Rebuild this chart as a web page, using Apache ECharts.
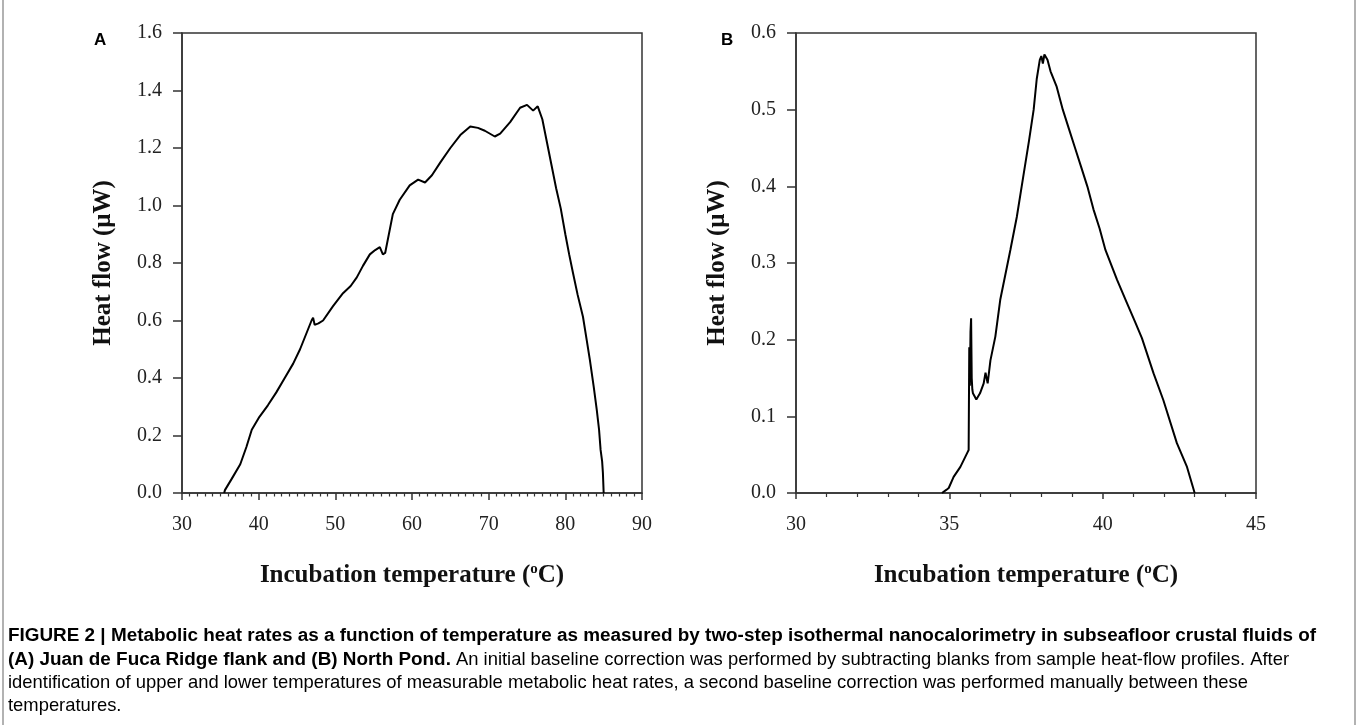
<!DOCTYPE html>
<html>
<head>
<meta charset="utf-8">
<script src="https://cdn.jsdelivr.net/npm/echarts@6/dist/echarts.min.js"></script>
<style>
html, body { margin: 0; padding: 0; background: #fff; }
#main { width: 1357px; height: 725px; }
</style>
</head>
<body>
<div id="main"></div>
<script>
// Panel A: Juan de Fuca Ridge flank
var tempA = [35.5, 35.6, 36.5, 37.6, 38.4, 39.1, 40.1, 41.2, 42.3, 43.4, 44.5, 45.4, 46.3, 46.9, 47.1, 47.3, 47.8, 48.4,
	49.7, 51.0, 52.0, 52.8, 53.6, 54.5, 55.2, 55.8, 56.2, 56.5, 57.5, 58.4, 59.7, 60.8, 61.7, 62.6, 63.7, 65.0,
	66.3, 67.6, 68.6, 69.5, 70.8, 71.5, 72.8, 74.1, 75.0, 75.8, 76.4, 77.0, 77.6, 78.2, 78.8, 79.4, 80.0, 80.5,
	81.0, 81.6, 82.3, 82.8, 83.2, 83.7, 84.1, 84.4, 84.6, 84.8, 84.9, 85.0];
var heatA = [0.0, 0.01, 0.05, 0.10, 0.16, 0.22, 0.265, 0.305, 0.35, 0.40, 0.45, 0.50, 0.56, 0.60, 0.61, 0.585, 0.59, 0.60,
	0.65, 0.695, 0.72, 0.75, 0.79, 0.83, 0.845, 0.855, 0.83, 0.835, 0.97, 1.02, 1.07, 1.09, 1.08, 1.105, 1.15, 1.20,
	1.245, 1.275, 1.27, 1.26, 1.24, 1.25, 1.29, 1.34, 1.35, 1.33, 1.345, 1.30, 1.22, 1.14, 1.06, 0.99, 0.90, 0.83,
	0.765, 0.69, 0.613, 0.53, 0.463, 0.37, 0.289, 0.22, 0.15, 0.11, 0.07, 0.0];

// Panel B: North Pond
var tempB = [34.76, 34.9, 34.98, 35.14, 35.36, 35.58, 35.63, 35.65, 35.67, 35.69, 35.71, 35.73, 35.75, 35.77, 35.88,
	36.0, 36.12, 36.18, 36.25, 36.34, 36.5, 36.66, 36.99, 37.2, 37.4, 37.6, 37.75, 37.85, 37.95, 38.0, 38.05, 38.1,
	38.2, 38.3, 38.5, 38.7, 38.9, 39.1, 39.3, 39.5, 39.7, 39.9, 40.09, 40.47, 40.8, 41.06, 41.28, 41.66, 41.98,
	42.42, 42.75, 43.0];
var heatB = [0.0, 0.004, 0.0065, 0.021, 0.034, 0.052, 0.056, 0.19, 0.14, 0.21, 0.228, 0.15, 0.135, 0.13, 0.122,
	0.13, 0.143, 0.157, 0.143, 0.173, 0.204, 0.252, 0.317, 0.36, 0.41, 0.46, 0.50, 0.54, 0.565, 0.57, 0.56, 0.572,
	0.565, 0.55, 0.53, 0.50, 0.475, 0.45, 0.425, 0.40, 0.37, 0.345, 0.317, 0.278, 0.247, 0.223, 0.202, 0.156, 0.121,
	0.065, 0.034, 0.0];

var ticksA = [30, 40, 50, 60, 70, 80, 90];
var ticksB = [30, 35, 40, 45];

var serif = '"Liberation Serif", "Times New Roman", serif';
var sans = '"Liberation Sans", Arial, sans-serif';
var axisColor = '#333';

function pairs(xs, ys) {
	return xs.map(function (x, i) { return [x, ys[i]]; });
}

var nameRich = {
	n: { fontFamily: serif, fontWeight: 'bold', fontSize: 25, color: '#111', lineHeight: 28 },
	s: { fontFamily: serif, fontWeight: 'bold', fontSize: 15, color: '#111', verticalAlign: 'top', lineHeight: 28 }
};

function xAxis(idx, ticks, minorSplit, majorLen, minorLen) {
	return {
		type: 'value',
		gridIndex: idx,
		min: ticks[0],
		max: ticks[ticks.length - 1],
		interval: ticks[1] - ticks[0],
		name: '{n|Incubation temperature (}{s|o}{n|C)}',
		nameLocation: 'middle',
		nameGap: 69,
		nameTextStyle: { rich: nameRich },
		axisLine: { lineStyle: { color: axisColor, width: 1.5 } },
		axisTick: { length: majorLen, lineStyle: { color: axisColor, width: 1.5 } },
		minorTick: { show: true, splitNumber: minorSplit, length: minorLen, lineStyle: { color: axisColor, width: 1.2 } },
		splitLine: { show: false },
		axisLabel: { margin: 22, fontFamily: serif, fontSize: 20, color: '#222' }
	};
}

function yAxis(idx, max, interval) {
	return {
		type: 'value',
		gridIndex: idx,
		min: 0,
		max: max,
		interval: interval,
		name: 'Heat flow (μW)',
		nameLocation: 'middle',
		nameGap: 66,
		nameTextStyle: { fontFamily: serif, fontWeight: 'bold', fontSize: 25, color: '#111' },
		axisLine: { lineStyle: { color: axisColor, width: 1.5 } },
		axisTick: { length: 9, lineStyle: { color: axisColor, width: 1.5 } },
		splitLine: { show: false },
		axisLabel: {
			margin: 20, fontFamily: serif, fontSize: 20, color: '#222',
			formatter: function (v) { return v.toFixed(1); }
		}
	};
}

var captionBold = { fontFamily: sans, fontWeight: 'bold', fontSize: 18.9, color: '#222' };
var captionReg = { fontFamily: sans, fontSize: 18.4, color: '#3a3a3a' };

function captionLine(y, text) {
	return {
		type: 'text', left: 8, top: y,
		style: { text: text, rich: { b: captionBold, r: captionReg } }
	};
}

var option = {
	backgroundColor: '#fff',
	animation: false,
	grid: [
		{ left: 182, top: 33, width: 460, height: 460, show: true, borderColor: axisColor, borderWidth: 1.5 },
		{ left: 796, top: 33, width: 460, height: 460, show: true, borderColor: axisColor, borderWidth: 1.5 }
	],
	xAxis: [xAxis(0, ticksA, 10, 7, 3.5), xAxis(1, ticksB, 5, 6, 4)],
	yAxis: [yAxis(0, 1.6, 0.2), yAxis(1, 0.6, 0.1)],
	series: [
		{
			type: 'line', xAxisIndex: 0, yAxisIndex: 0, data: pairs(tempA, heatA),
			showSymbol: false, lineStyle: { color: '#000', width: 2 }
		},
		{
			type: 'line', xAxisIndex: 1, yAxisIndex: 1, data: pairs(tempB, heatB),
			showSymbol: false, lineStyle: { color: '#000', width: 2 }
		}
	],
	graphic: [
		{ type: 'text', left: 94, top: 32, style: { text: 'A', fontFamily: sans, fontWeight: 'bold', fontSize: 17, fill: '#000' } },
		{ type: 'text', left: 721, top: 32, style: { text: 'B', fontFamily: sans, fontWeight: 'bold', fontSize: 17, fill: '#000' } },
		captionLine(626, '{b|FIGURE 2 | Metabolic heat rates as a function of temperature as measured by two-step isothermal nanocalorimetry in subseafloor crustal fluids of}'),
		captionLine(650, '{b|(A) Juan de Fuca Ridge flank and (B) North Pond.}{r| An initial baseline correction was performed by subtracting blanks from sample heat-flow profiles. After}'),
		captionLine(674, '{r|identification of upper and lower temperatures of measurable metabolic heat rates, a second baseline correction was performed manually between these}'),
		captionLine(697, '{r|temperatures.}'),
		{ type: 'rect', shape: { x: 3, y: -5, width: 1352, height: 740 }, style: { fill: 'none', stroke: '#999', lineWidth: 1.5 } }
	]
};

var chart = echarts.init(document.getElementById('main'));
chart.setOption(option);
</script>
</body>
</html>
